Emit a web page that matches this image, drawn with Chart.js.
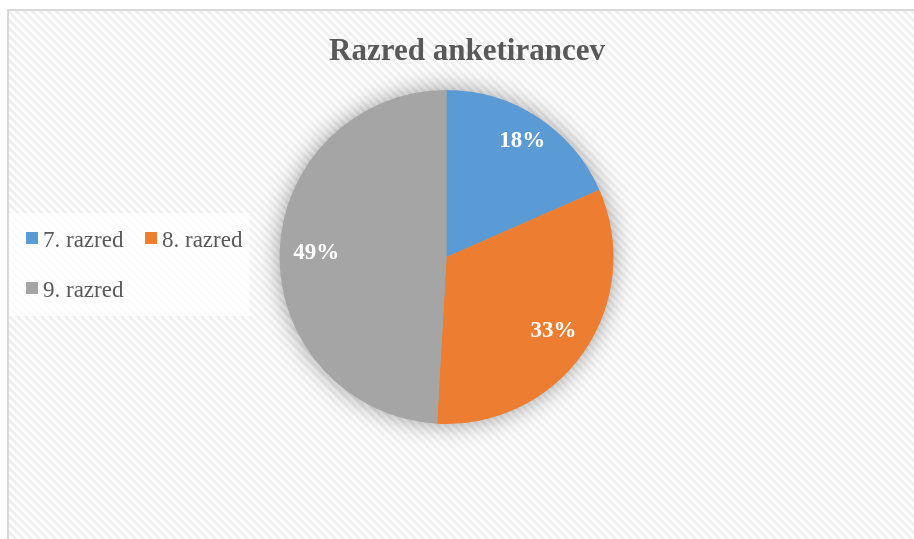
<!DOCTYPE html>
<html>
<head>
<meta charset="utf-8">
<script src="https://cdn.jsdelivr.net/npm/chart.js@4"></script>
<style>
  html, body { margin: 0; padding: 0; background: #fff; }
  #wrap { width: 914px; height: 539px; position: relative; }
</style>
</head>
<body>
<div id="wrap"><canvas id="chart" width="914" height="539"></canvas></div>
<script>
// data
const chartTitle = 'Razred anketirancev';
const categories = ['7. razred', '8. razred', '9. razred'];
const shares = [18.4, 32.5, 49.1];
const shareLabels = ['18%', '33%', '49%'];
const colors = ['#5B9BD5', '#ED7D31', '#A5A5A5'];

const textGrey = '#595959';
const serif = '"Liberation Serif", "Times New Roman", serif';

// striped background, frame and title
const backdrop = {
  id: 'backdrop',
  beforeDraw(chart) {
    const { ctx, width, height } = chart;
    ctx.save();
    ctx.fillStyle = '#fff';
    ctx.fillRect(0, 0, width, height);

    ctx.beginPath();
    ctx.rect(9, 11, width - 9, height - 11);
    ctx.clip();
    ctx.strokeStyle = '#efefef';
    ctx.lineWidth = 2.8;
    for (let x = -height; x < width + 20; x += 8) {
      ctx.beginPath();
      ctx.moveTo(x, 0);
      ctx.lineTo(x + height, height);
      ctx.stroke();
    }
    ctx.restore();

    ctx.save();
    ctx.strokeStyle = '#d9d9d9';
    ctx.lineWidth = 2;
    ctx.beginPath();
    ctx.moveTo(8, height);
    ctx.lineTo(8, 10);
    ctx.lineTo(width, 10);
    ctx.stroke();

    ctx.fillStyle = textGrey;
    ctx.font = 'bold 31px ' + serif;
    ctx.textAlign = 'center';
    ctx.textBaseline = 'alphabetic';
    ctx.fillText(chartTitle, 467, 60);
    ctx.restore();
  }
};

// soft shadow under the whole pie
const pieShadow = {
  id: 'pieShadow',
  beforeDatasetsDraw(chart) {
    const arc = chart.getDatasetMeta(0).data[0];
    if (!arc) return;
    const { ctx } = chart;
    ctx.save();
    ctx.shadowColor = 'rgba(0,0,0,0.4)';
    ctx.shadowBlur = 24;
    ctx.fillStyle = '#a5a5a5';
    ctx.beginPath();
    ctx.arc(arc.x, arc.y, arc.outerRadius - 1, 0, Math.PI * 2);
    ctx.fill();
    ctx.restore();
  }
};

// percentage labels inside the slices
const sliceLabels = {
  id: 'sliceLabels',
  afterDatasetsDraw(chart) {
    const { ctx } = chart;
    ctx.save();
    ctx.fillStyle = '#fff';
    ctx.font = 'bold 23px ' + serif;
    ctx.textAlign = 'center';
    ctx.textBaseline = 'middle';
    chart.getDatasetMeta(0).data.forEach((arc, i) => {
      const mid = (arc.startAngle + arc.endAngle) / 2;
      const r = arc.outerRadius * (arc.circumference < 1.5 ? 0.83 : 0.78);
      ctx.fillText(shareLabels[i], arc.x + Math.cos(mid) * r, arc.y + Math.sin(mid) * r);
    });
    ctx.restore();
  }
};

// legend box on the left
const sideLegend = {
  id: 'sideLegend',
  afterDraw(chart) {
    const { ctx } = chart;
    ctx.save();
    ctx.fillStyle = 'rgba(255,255,255,0.75)';
    ctx.fillRect(9, 213, 241, 103);
    ctx.font = '23px ' + serif;
    ctx.textBaseline = 'alphabetic';
    const spots = [[26, 247], [145, 247], [26, 297]];
    categories.forEach((name, i) => {
      const [x, y] = spots[i];
      ctx.fillStyle = colors[i];
      ctx.fillRect(x, y - 15, 12, 12);
      ctx.fillStyle = textGrey;
      ctx.fillText(name, x + 17, y);
    });
    ctx.restore();
  }
};

new Chart(document.getElementById('chart'), {
  type: 'pie',
  data: {
    labels: categories,
    datasets: [{
      data: shares,
      backgroundColor: colors,
      borderWidth: 0,
      hoverOffset: 0,
      offset: 0
    }]
  },
  options: {
    responsive: false,
    animation: false,
    events: [],
    layout: { padding: { top: 90, bottom: 115, left: 0, right: 21 } },
    plugins: {
      legend: { display: false },
      title: { display: false },
      tooltip: { enabled: false }
    }
  },
  plugins: [backdrop, pieShadow, sliceLabels, sideLegend]
});
</script>
</body>
</html>
